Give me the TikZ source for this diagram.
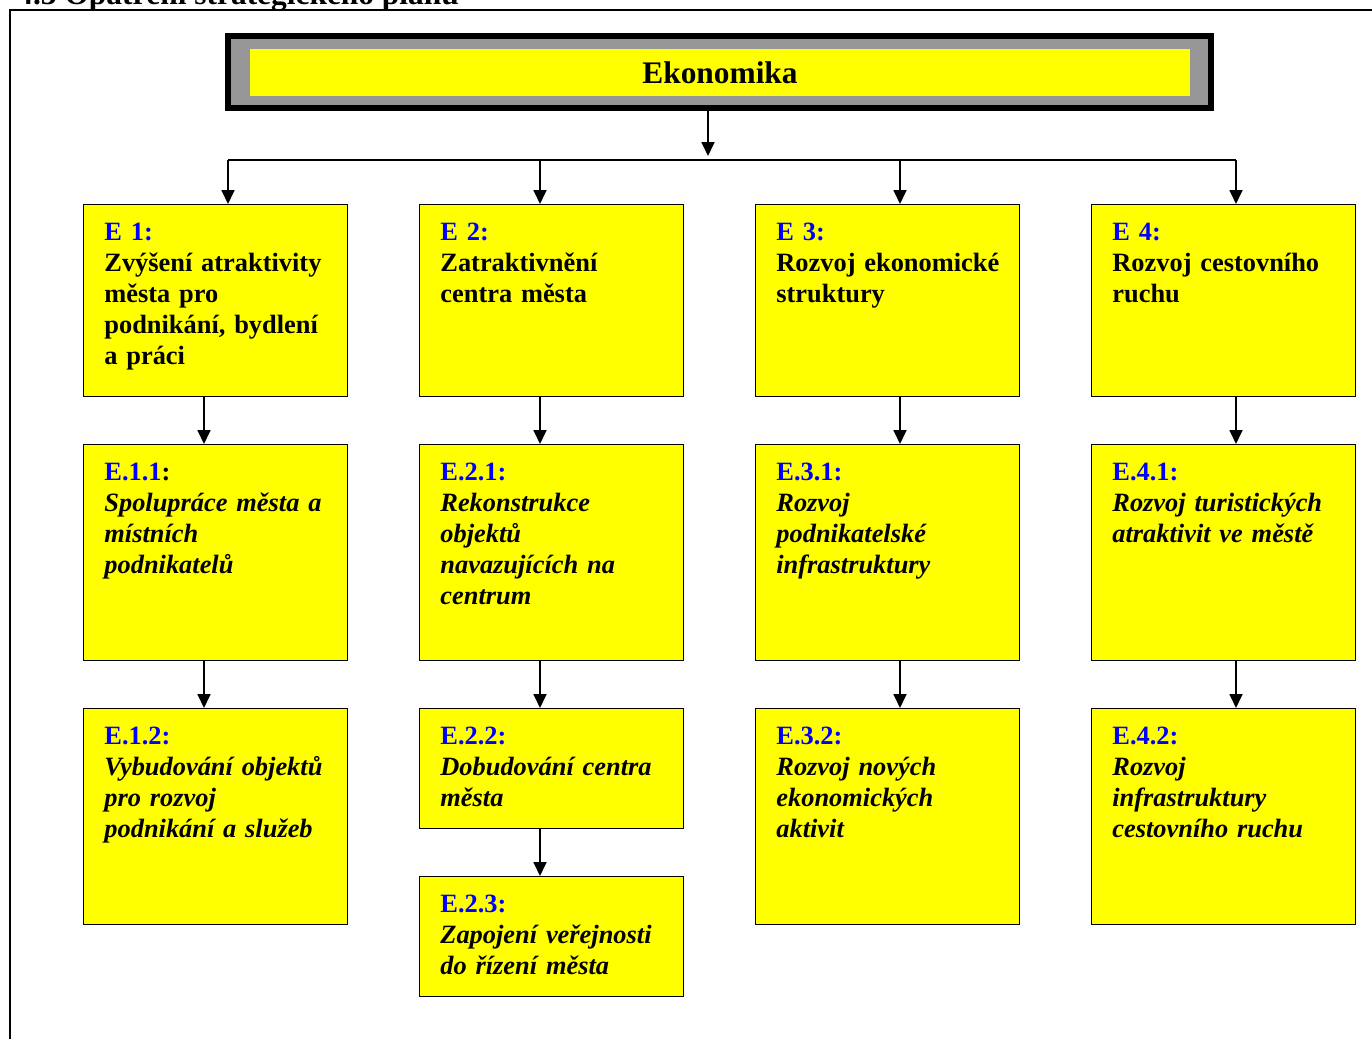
\documentclass[tikz,border=0pt]{standalone}
\usepackage{fontspec}
\setmainfont{Liberation Serif}
\usetikzlibrary{arrows.meta, calc}
\definecolor{bandgray}{RGB}{150,150,150}
\definecolor{cardyellow}{RGB}{255,255,0}
\definecolor{labblue}{RGB}{0,0,255}
\newcommand{\lab}[1]{\textcolor{labblue}{#1}}

\begin{document}
\begin{tikzpicture}[x=0.5pt, y=-0.5pt,
    card/.style={draw=black, line width=0.6pt, fill=cardyellow, anchor=north west, minimum width=132pt, inner sep=0pt},
    txt/.style={anchor=base west, align=left, text width=125pt, inner sep=0pt, font=\fontsize{13.2}{15.5}\selectfont\bfseries},
    arr/.style={line width=0.9pt, -{Triangle[length=7pt, width=6.5pt]}}]
    \useasboundingbox (0,0) rectangle (1372,1039);
    % page frame and the cut heading
    \draw [line width=1pt] (10,1039) -- (10,10) -- (1372,10);
    \node [anchor=base west, inner sep=0pt, font=\fontsize{15.7}{18}\selectfont\bfseries] (head) at (17,4) {4.3 Opatření strategického plánu};

    % top box
    \node [draw=black, line width=3pt, fill=bandgray, minimum width=491.5pt, minimum height=36pt, inner sep=0pt] (ekoframe) at (719.5,72) {};
    \node [fill=cardyellow, minimum width=470pt, minimum height=23.5pt, inner sep=0pt, font=\fontsize{15.7}{18}\selectfont\bfseries] (eko) at (720,72.5) {Ekonomika};

    % boxes
    \node [card, minimum height=96pt] (e1) at (83,204) {};
    \node [card, minimum height=96pt] (e2) at (419,204) {};
    \node [card, minimum height=96pt] (e3) at (755,204) {};
    \node [card, minimum height=96pt] (e4) at (1091,204) {};
    \node [card, minimum height=108pt] (e11) at (83,444) {};
    \node [card, minimum height=108pt] (e21) at (419,444) {};
    \node [card, minimum height=108pt] (e31) at (755,444) {};
    \node [card, minimum height=108pt] (e41) at (1091,444) {};
    \node [card, minimum height=108pt] (e12) at (83,708) {};
    \node [card, minimum height=60pt] (e22) at (419,708) {};
    \node [card, minimum height=60pt] (e23) at (419,876) {};
    \node [card, minimum height=108pt] (e32) at (755,708) {};
    \node [card, minimum height=108pt] (e42) at (1091,708) {};

    % texts
    \node [txt] (e1t) at ([shift={(10.5pt,-18pt)}]e1.north west) {\lab{E 1:}\\Zvýšení atraktivity\\města pro\\podnikání, bydlení\\a práci};
    \node [txt] (e2t) at ([shift={(10.5pt,-18pt)}]e2.north west) {\lab{E 2:}\\Zatraktivnění\\centra města};
    \node [txt] (e3t) at ([shift={(10.5pt,-18pt)}]e3.north west) {\lab{E 3:}\\Rozvoj ekonomické\\struktury};
    \node [txt] (e4t) at ([shift={(10.5pt,-18pt)}]e4.north west) {\lab{E 4:}\\Rozvoj cestovního\\ruchu};
    \node [txt] (e11t) at ([shift={(10.5pt,-18pt)}]e11.north west) {\lab{E.1.1}:\\\textit{Spolupráce města a}\\\textit{místních}\\\textit{podnikatelů}};
    \node [txt] (e21t) at ([shift={(10.5pt,-18pt)}]e21.north west) {\lab{E.2.1:}\\\textit{Rekonstrukce}\\\textit{objektů}\\\textit{navazujících na}\\\textit{centrum}};
    \node [txt] (e31t) at ([shift={(10.5pt,-18pt)}]e31.north west) {\lab{E.3.1:}\\\textit{Rozvoj}\\\textit{podnikatelské}\\\textit{infrastruktury}};
    \node [txt] (e41t) at ([shift={(10.5pt,-18pt)}]e41.north west) {\lab{E.4.1:}\\\textit{Rozvoj turistických}\\\textit{atraktivit ve městě}};
    \node [txt] (e12t) at ([shift={(10.5pt,-18pt)}]e12.north west) {\lab{E.1.2:}\\\textit{Vybudování objektů}\\\textit{pro rozvoj}\\\textit{podnikání a služeb}};
    \node [txt] (e22t) at ([shift={(10.5pt,-18pt)}]e22.north west) {\lab{E.2.2:}\\\textit{Dobudování centra}\\\textit{města}};
    \node [txt] (e23t) at ([shift={(10.5pt,-18pt)}]e23.north west) {\lab{E.2.3:}\\\textit{Zapojení veřejnosti}\\\textit{do řízení města}};
    \node [txt] (e32t) at ([shift={(10.5pt,-18pt)}]e32.north west) {\lab{E.3.2:}\\\textit{Rozvoj nových}\\\textit{ekonomických}\\\textit{aktivit}};
    \node [txt] (e42t) at ([shift={(10.5pt,-18pt)}]e42.north west) {\lab{E.4.2:}\\\textit{Rozvoj}\\\textit{infrastruktury}\\\textit{cestovního ruchu}};

    % connectors
    \coordinate (hub) at (708,156);
    \coordinate (busL) at (228,160);
    \coordinate (busR) at (1236,160);
    \draw [arr] (hub |- ekoframe.south) -- (hub);
    \draw [line width=0.9pt] (busL) -- (busR);
    \foreach \x/\n in {228/e1, 540/e2, 900/e3, 1236/e4}
        \draw [arr] (\x,0 |- busL) -- (\x,0 |- \n.north);
    \foreach \a/\b/\x in {e1/e11/204, e11/e12/204, e2/e21/540, e21/e22/540, e22/e23/540, e3/e31/900, e31/e32/900, e4/e41/1236, e41/e42/1236}
        \draw [arr] (\x,0 |- \a.south) -- (\x,0 |- \b.north);
\end{tikzpicture}
\end{document}
